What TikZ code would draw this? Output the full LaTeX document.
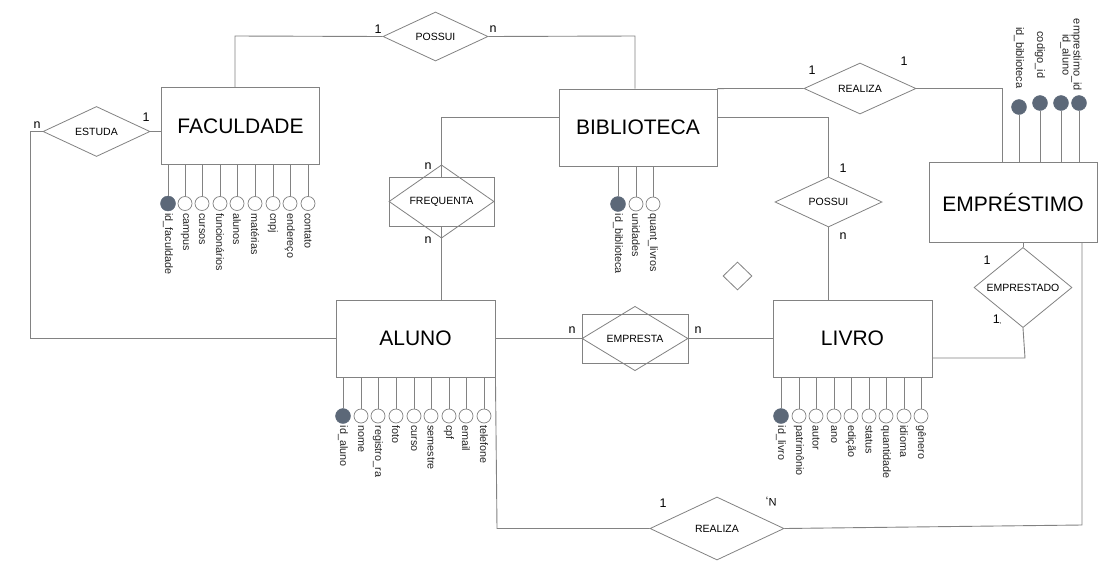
\documentclass[tikz,border=0pt]{standalone}
\usepackage{fontspec}
\setmainfont{Liberation Sans}
\usetikzlibrary{shapes.geometric}
\definecolor{ln}{RGB}{130,130,130}
\definecolor{pk}{RGB}{92,104,120}
\begin{document}
\begin{tikzpicture}[x=1pt,y=-1pt,
  ent/.style={draw=ln, line width=0.9pt, inner sep=0pt, minimum width=158pt, minimum height=77pt, font=\fontsize{21}{24}\selectfont},
  rel/.style={diamond, draw=ln, line width=0.8pt, inner sep=0pt, font=\fontsize{10.5}{12}\selectfont},
  relbox/.style={draw=ln, line width=0.8pt, inner sep=0pt},
  con/.style={draw=ln, line width=0.9pt},
  card/.style={inner sep=0pt, font=\fontsize{12.5}{14}\selectfont},
  attr/.style={circle, draw=ln, line width=0.7pt, fill=white, minimum size=14pt, inner sep=0pt},
  pkattr/.style={circle, draw=pk, fill=pk, minimum size=15pt, inner sep=0pt},
  alab/.style={rotate=-90, anchor=west, inner sep=2pt, font=\fontsize{10.8}{12}\selectfont, text=black!85},
  elab/.style={rotate=-90, anchor=center, inner sep=0pt, align=center, font=\fontsize{11}{11}\selectfont, text=black!85}
]
\useasboundingbox[fill=white] (0,0) rectangle (1117,563);

% entities
\node[ent] (FAC) at (240.5,126) {FACULDADE};
\node[ent] (BIB) at (638,127.5) {BIBLIOTECA};
\node[ent, minimum width=168pt, minimum height=80pt] (EMP) at (1013,202) {EMPRÉSTIMO};
\node[ent, minimum width=159pt] (ALU) at (415.5,338.5) {ALUNO};
\node[ent, minimum width=159pt] (LIV) at (852.5,338.5) {LIVRO};

% relationships
\node[rel, minimum width=107pt, minimum height=49pt] (ES) at (96.5,131.5) {ESTUDA};
\node[rel, minimum width=105pt, minimum height=49pt] (P1) at (435.5,36.5) {POSSUI};
\node[relbox, minimum width=105pt, minimum height=49pt] (FQr) at (441.5,201.5) {};
\node[rel, minimum width=105pt, minimum height=49pt] (FQ) at (441.5,201.5) {FREQUENTA};
\node[rel, minimum width=107pt, minimum height=50pt] (P2) at (828.5,202) {POSSUI};
\node[rel, minimum width=112pt, minimum height=49pt] (R1) at (860,88.5) {REALIZA};
\node[relbox, minimum width=106pt, minimum height=49pt] (EMr) at (635,338.5) {};
\node[rel, minimum width=106pt, minimum height=49pt] (EM) at (635,338.5) {EMPRESTA};
\node[rel, minimum width=98pt, minimum height=45pt] (ED) at (1023,287.5) {EMPRESTADO};
\node[rel, minimum width=134pt, minimum height=63pt] (R2) at (717,528.5) {REALIZA};
\node[rel, minimum width=29pt, minimum height=28pt] (LD) at (737.5,276) {};

% connectors
\coordinate (f1) at (235,36);
\draw[con] (f1 |- FAC.north) -- (f1) -- (P1.west);
\coordinate (b1) at (635,36);
\draw[con] (P1.east) -- (b1) -- (b1 |- BIB.north);
\draw[con] (ES.east) -- (FAC.west |- ES.east);
\coordinate (k1) at (30,131.5);
\coordinate (k2) at (30,338.5);
\draw[con] (ES.west) -- (k1) -- (k2) -- (ALU.west);
\coordinate (b2) at (441.5,117);
\draw[con] (BIB.west |- b2) -- (b2) -- (FQr.north);
\draw[con] (FQr.south) -- (FQr.south |- ALU.north);
\coordinate (b3) at (828.5,117);
\draw[con] (BIB.east |- b3) -- (b3) -- (P2.north);
\draw[con] (P2.south) -- (P2.south |- LIV.north);
\draw[con] (BIB.north east) -- (R1.west);
\coordinate (r1) at (1002,88.5);
\draw[con] (R1.east) -- (r1) -- (r1 |- EMP.north);
\draw[con] (ALU.east) -- (EMr.west);
\draw[con] (EMr.east) -- (LIV.west);
\draw[con] (ED.north |- EMP.south) -- (ED.north);
\coordinate (d1) at (1025,358);
\draw[con] (ED.south) -- (d1) -- (LIV.east |- d1);
\coordinate (e1) at (1082,525);
\draw[con] (e1 |- EMP.south) -- (e1) -- (R2.east);
\coordinate (a1) at (497,528.5);
\draw[con] (ALU.south east) -- (a1) -- (R2.west);

% cardinalities
\node[card] (c1) at (378,29) {1};
\node[card] (c2) at (493,29) {n};
\node[card] (c3) at (146,117) {1};
\node[card] (c4) at (37,125) {n};
\node[card] (c5) at (428,166) {n};
\node[card] (c6) at (428,240) {n};
\node[card] (c7) at (843,168) {1};
\node[card] (c8) at (843,236) {n};
\node[card] (c9) at (812,70) {1};
\node[card] (c10) at (904,61) {1};
\node[card] (c11) at (572,330) {n};
\node[card] (c12) at (698,330) {n};
\node[card] (c13) at (987,260) {1};
\node[card] (c14) at (997,320) {1\kern-0.5pt{\fontsize{7}{7}\selectfont ,}};
\node[card] (c15) at (663,503) {1};
\node[card, rotate=180, font=\fontsize{11}{12}\selectfont] (c16) at (771,502) {N,};

% FACULDADE attributes
\foreach \t/\x/\s [count=\i] in {{id\_faculdade}/168/pkattr, campus/185/attr, cursos/202/attr, funcionários/220/attr, alunos/237/attr, matérias/255/attr, cnpj/273/attr, endereço/290/attr, contato/308/attr} {
  \node[\s] (fa\i) at (\x,203.5) {};
  \draw[con, line width=0.7pt] (fa\i.north) -- (fa\i.north |- FAC.south);
  \node[alab] (fal\i) at (fa\i.south) {\t};
}
% BIBLIOTECA attributes
\foreach \t/\x/\s [count=\i] in {{id\_biblioteca}/618/pkattr, unidades/636/attr, {quant\_livros}/653/attr} {
  \node[\s] (ba\i) at (\x,204) {};
  \draw[con, line width=0.7pt] (ba\i.north) -- (ba\i.north |- BIB.south);
  \node[alab] (bal\i) at (ba\i.south) {\t};
}
% ALUNO attributes
\foreach \t/\x/\s [count=\i] in {{id\_aluno}/343/pkattr, nome/361/attr, {registro\_ra}/378/attr, foto/396/attr, curso/414/attr, semestre/431/attr, cpf/449/attr, email/466/attr, telefone/484/attr} {
  \node[\s] (aa\i) at (\x,416) {};
  \draw[con, line width=0.7pt] (aa\i.north) -- (aa\i.north |- ALU.south);
  \node[alab] (aal\i) at (aa\i.south) {\t};
}
% LIVRO attributes
\foreach \t/\x/\s [count=\i] in {{id\_livro}/781/pkattr, patrimônio/799/attr, autor/816/attr, ano/834/attr, edição/851/attr, status/869/attr, quantidade/886/attr, idioma/904/attr, gênero/921/attr} {
  \node[\s] (la\i) at (\x,416) {};
  \draw[con, line width=0.7pt] (la\i.north) -- (la\i.north |- LIV.south);
  \node[alab] (lal\i) at (la\i.south) {\t};
}
% EMPRESTIMO attributes
\foreach \x/\y [count=\i] in {1019/107, 1040/103, 1061/103, 1079/103} {
  \node[pkattr] (ea\i) at (\x,\y) {};
  \draw[con, line width=0.7pt] (ea\i.south) -- (ea\i.south |- EMP.north);
}
\node[elab] (eal1) at (1019,58) {id\_biblioteca};
\node[elab] (eal2) at (1040,55) {codigo\_id};
\node[elab] (eal3) at (1071,55) {emprestimo\_id\\id\_aluno};
\end{tikzpicture}
\end{document}
